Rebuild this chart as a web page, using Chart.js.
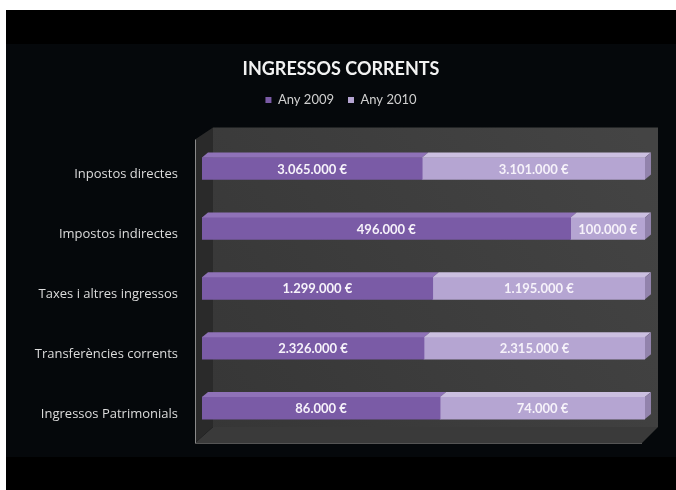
<!DOCTYPE html>
<html>
<head>
<meta charset="utf-8">
<script src="https://cdn.jsdelivr.net/npm/chart.js@4.4.1/dist/chart.umd.min.js"></script>
<style>
  body { margin: 0; background: #fff; }
  #wrap {
    position: absolute; left: 6px; top: 10px; width: 670px; height: 480px;
    background: linear-gradient(to bottom, #000 0, #000 34px, #05080b 34px, #05080b 447px, #000 447px);
  }
</style>
</head>
<body>
<div id="wrap"><canvas id="chart" width="670" height="480"></canvas></div>
<script>
const categories = [
  "Inpostos directes",
  "Impostos indirectes",
  "Taxes i altres ingressos",
  "Transferències corrents",
  "Ingressos Patrimonials",
];
const seriesNames = ["Any 2009", "Any 2010"];
const any2009 = [3065000, 496000, 1299000, 2326000, 86000];
const any2010 = [3101000, 100000, 1195000, 2315000, 74000];

// 100% stacked: share of each year per category
const share2009 = any2009.map((v, i) => (v / (v + any2010[i])) * 100);
const share2010 = any2010.map((v, i) => (v / (any2009[i] + v)) * 100);

function formatEuro(v) {
  return String(v).replace(/\B(?=(\d{3})+(?!\d))/g, ".") + " €";
}

// ── 3D look: walls behind bars, top/side faces on bars ──
const walls3d = {
  id: "walls3d",
  beforeDatasetsDraw(chart) {
    const { ctx, chartArea: a } = chart;
    const L = a.left, R = a.right, T = a.top, B = a.bottom;
    const dx = 18, dy = 12;
    ctx.save();
    // back wall
    const g = ctx.createLinearGradient(L, B, R, T);
    g.addColorStop(0, "#363636");
    g.addColorStop(1, "#444444");
    ctx.fillStyle = g;
    ctx.beginPath();
    ctx.moveTo(L - 7 + dx, T + 1 - dy);
    ctx.lineTo(R + 13, T + 1 - dy);
    ctx.lineTo(R + 13, B + 5 - dy - 4);
    ctx.lineTo(L - 7 + dx, B + 5 - dy - 4);
    ctx.closePath();
    ctx.fill();
    // floor
    ctx.fillStyle = "#3a3a3a";
    ctx.beginPath();
    ctx.moveTo(L - 7, B + 5);
    ctx.lineTo(L - 7 + dx, B + 5 - dy - 4);
    ctx.lineTo(R + 13, B + 5 - dy - 4);
    ctx.lineTo(R - 3, B + 5);
    ctx.closePath();
    ctx.fill();
    ctx.strokeStyle = "#555";
    ctx.lineWidth = 1;
    ctx.beginPath();
    ctx.moveTo(L - 7, B + 5.5);
    ctx.lineTo(R - 3, B + 5.5);
    ctx.stroke();
    // left side wall
    ctx.fillStyle = "#2a2a2a";
    ctx.beginPath();
    ctx.moveTo(L - 7, T + 1);
    ctx.lineTo(L - 7 + dx, T + 1 - dy);
    ctx.lineTo(L - 7 + dx, B + 5 - dy - 4);
    ctx.lineTo(L - 7, B + 5);
    ctx.closePath();
    ctx.fill();
    // axis line
    ctx.strokeStyle = "#8a8a8a";
    ctx.beginPath();
    ctx.moveTo(L - 6.5, T + 1);
    ctx.lineTo(L - 6.5, B + 5);
    ctx.stroke();
    ctx.restore();
  },
  afterDatasetsDraw(chart) {
    const { ctx } = chart;
    const d = 6, h = 5;
    const tops = ["#8f72b8", "#cbbfe0"];
    const sides = ["#5c4480", "#9283ac"];
    ctx.save();
    chart.data.datasets.forEach((ds, di) => {
      const meta = chart.getDatasetMeta(di);
      meta.data.forEach((bar, i) => {
        const x0 = Math.min(bar.base, bar.x), x1 = Math.max(bar.base, bar.x);
        const yTop = bar.y - bar.height / 2, yBot = bar.y + bar.height / 2;
        ctx.fillStyle = tops[di];
        ctx.beginPath();
        ctx.moveTo(x0, yTop);
        ctx.lineTo(x0 + d, yTop - h);
        ctx.lineTo(x1 + d, yTop - h);
        ctx.lineTo(x1, yTop);
        ctx.closePath();
        ctx.fill();
        if (di === chart.data.datasets.length - 1) {
          ctx.fillStyle = sides[di];
          ctx.beginPath();
          ctx.moveTo(x1, yTop);
          ctx.lineTo(x1 + d, yTop - h);
          ctx.lineTo(x1 + d, yBot - h);
          ctx.lineTo(x1, yBot);
          ctx.closePath();
          ctx.fill();
        }
      });
    });
    ctx.restore();
  },
};

// ── Value labels centred in each segment ──
const valueLabels = {
  id: "valueLabels",
  afterDatasetsDraw(chart) {
    const { ctx } = chart;
    const raw = [any2009, any2010];
    ctx.save();
    ctx.font = "bold 13px Lato";
    ctx.fillStyle = "#f6f2fa";
    ctx.textAlign = "center";
    ctx.textBaseline = "middle";
    chart.data.datasets.forEach((ds, di) => {
      chart.getDatasetMeta(di).data.forEach((bar, i) => {
        ctx.fillText(formatEuro(raw[di][i]), (bar.x + bar.base) / 2, bar.y + 1);
      });
    });
    ctx.restore();
  },
};

Chart.defaults.font.family = "Lato";

new Chart(document.getElementById("chart"), {
  type: "bar",
  data: {
    labels: categories,
    datasets: [
      {
        label: seriesNames[0],
        data: share2009,
        backgroundColor: "#7a5ba6",
        barThickness: 22,
      },
      {
        label: seriesNames[1],
        data: share2010,
        backgroundColor: "#b5a5d2",
        barThickness: 22,
      },
    ],
  },
  options: {
    indexAxis: "y",
    responsive: false,
    animation: false,
    layout: { padding: { top: 48, right: 0, bottom: 52, left: 0 } },
    plugins: {
      title: {
        display: true,
        text: "INGRESSOS CORRENTS",
        color: "#f2f2f2",
        font: { size: 18, weight: "bold" },
        padding: { top: 0, bottom: 0 },
      },
      legend: {
        labels: {
          color: "#d0d0d0",
          boxWidth: 6,
          boxHeight: 6,
          padding: 14,
          font: { size: 13 },
        },
      },
      tooltip: { enabled: false },
    },
    scales: {
      x: {
        stacked: true,
        min: 0,
        max: 100,
        position: "top",
        ticks: { display: false },
        grid: { display: false },
        border: { display: false },
        afterFit: (scale) => { scale.height = 22; },
      },
      y: {
        stacked: true,
        grid: { display: false },
        border: { display: false },
        ticks: {
          color: "#dcdcdc",
          font: { size: 13, family: "Open Sans" },
          padding: 16,
          labelOffset: 6,
        },
        afterFit: (scale) => { scale.width = 196; },
      },
      // empty right-hand margin so title and legend centre on the whole canvas
      pad: {
        type: "linear",
        axis: "y",
        position: "right",
        ticks: { display: false },
        grid: { display: false },
        border: { display: false },
        afterFit: (scale) => { scale.width = 31; },
      },
    },
  },
  plugins: [walls3d, valueLabels],
});
</script>
</body>
</html>
